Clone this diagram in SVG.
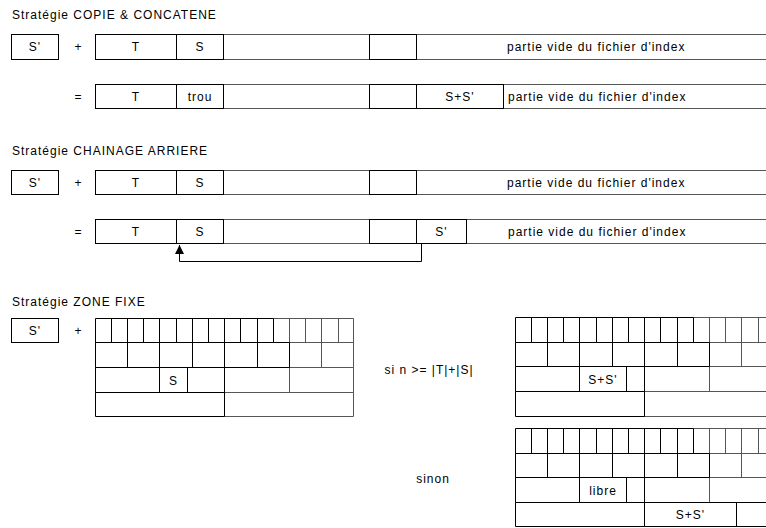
<svg xmlns="http://www.w3.org/2000/svg" width="766" height="528" viewBox="0 0 766 528">
<defs>
<marker id="ah" viewBox="0 0 10 10" refX="10" refY="5" markerWidth="11" markerHeight="9" markerUnits="userSpaceOnUse" orient="auto"><path d="M0,0L10,5L0,10z" fill="#000"/></marker>
</defs>
<style>
text{font-family:"Liberation Sans",Arial,sans-serif;font-size:12px;letter-spacing:1px;fill:#000}
.c{text-anchor:middle}
.b{fill:none;stroke:#000;stroke-width:1}
.f{fill:none;stroke:#555;stroke-width:1}
.ln{fill:none;stroke:#000;stroke-width:1}
</style>
<rect width="766" height="528" fill="#fff"/>

<!-- Section 1 : COPIE & CONCATENE -->
<g id="titre-copie"><text x="12" y="19">Stratégie COPIE &amp; CONCATENE</text></g>
<g id="copie-sprime"><rect class="b" x="11.5" y="34.5" width="47" height="25"/><text class="c" x="35" y="51">S'</text></g>
<g id="copie-plus"><text class="c" x="78.5" y="51">+</text></g>
<g id="copie-index-avant">
<rect class="f" x="223.5" y="34.5" width="146" height="25"/>
<rect class="f" x="416.5" y="34.5" width="360" height="25"/>
<rect class="b" x="95.5" y="34.5" width="81" height="25"/>
<rect class="b" x="176.5" y="34.5" width="47" height="25"/>
<rect class="b" x="369.5" y="34.5" width="47" height="25"/>
<text class="c" x="136" y="51">T</text>
<text class="c" x="200" y="51">S</text>
<text x="507" y="51">partie vide du fichier d'index</text>
</g>
<g id="copie-egal"><text class="c" x="78.5" y="101">=</text></g>
<g id="copie-index-apres">
<rect class="f" x="223.5" y="84.5" width="146" height="24"/>
<rect class="f" x="503.5" y="84.5" width="280" height="24"/>
<rect class="b" x="95.5" y="84.5" width="81" height="24"/>
<rect class="b" x="176.5" y="84.5" width="47" height="24"/>
<rect class="b" x="369.5" y="84.5" width="47" height="24"/>
<rect class="b" x="416.5" y="84.5" width="87" height="24"/>
<text class="c" x="136" y="101">T</text>
<text class="c" x="200" y="101">trou</text>
<text class="c" x="460" y="101">S+S'</text>
<text x="508" y="101">partie vide du fichier d'index</text>
</g>

<!-- Section 2 : CHAINAGE ARRIERE -->
<g id="titre-chainage"><text x="12" y="155">Stratégie CHAINAGE ARRIERE</text></g>
<g id="chainage-sprime"><rect class="b" x="11.5" y="170.5" width="47" height="24"/><text class="c" x="35" y="187">S'</text></g>
<g id="chainage-plus"><text class="c" x="78.5" y="187">+</text></g>
<g id="chainage-index-avant">
<rect class="f" x="223.5" y="170.5" width="146" height="24"/>
<rect class="f" x="416.5" y="170.5" width="360" height="24"/>
<rect class="b" x="95.5" y="170.5" width="81" height="24"/>
<rect class="b" x="176.5" y="170.5" width="47" height="24"/>
<rect class="b" x="369.5" y="170.5" width="47" height="24"/>
<text class="c" x="136" y="187">T</text>
<text class="c" x="200" y="187">S</text>
<text x="507" y="187">partie vide du fichier d'index</text>
</g>
<g id="chainage-egal"><text class="c" x="78.5" y="236">=</text></g>
<g id="chainage-index-apres">
<rect class="f" x="223.5" y="219.5" width="146" height="24"/>
<rect class="f" x="466.5" y="219.5" width="310" height="24"/>
<rect class="b" x="95.5" y="219.5" width="81" height="24"/>
<rect class="b" x="176.5" y="219.5" width="47" height="24"/>
<rect class="b" x="369.5" y="219.5" width="47" height="24"/>
<rect class="b" x="416.5" y="219.5" width="50" height="24"/>
<text class="c" x="136" y="236">T</text>
<text class="c" x="200" y="236">S</text>
<text class="c" x="441.5" y="236">S'</text>
<text x="508" y="236">partie vide du fichier d'index</text>
</g>

<g id="connecteurs">
<path class="ln" d="M421.5,243.5V261.5H179.5V245" marker-end="url(#ah)"/>
</g>

<!-- Section 3 : ZONE FIXE -->
<g id="titre-zone"><text x="12" y="306">Stratégie ZONE FIXE</text></g>
<g id="zone-sprime"><rect class="b" x="11.5" y="318.5" width="47" height="24"/><text class="c" x="35" y="335">S'</text></g>
<g id="zone-plus"><text class="c" x="78.5" y="335">+</text></g>

<g id="grille-avant" transform="translate(95.5,318.5)">
<path class="f" d="M178,0H258V24H178Z M194,0V24 M210,0V24 M226,0V24 M243,0V24 M194,24H258V49H194Z M226,24V49 M129,49H258V74H129Z M194,49V74 M129,74H258V98H129Z"/>
<path class="b" d="M0,0H178V24H0Z M16,0V24 M32,0V24 M48,0V24 M64,0V24 M81,0V24 M97,0V24 M113,0V24 M129,0V24 M145,0V24 M162,0V24 M0,24H194V49H0Z M32,24V49 M64,24V49 M97,24V49 M129,24V49 M162,24V49 M0,49H129V74H0Z M64,49V74 M0,74H129V98H0Z"/>
<rect class="b" x="64" y="49" width="28" height="25"/>
<text class="c" x="78" y="66">S</text>
</g>

<g id="cond-si"><text class="c" x="429" y="374">si n &gt;= |T|+|S|</text></g>

<g id="grille-si" transform="translate(515.5,317.5)">
<path class="f" d="M178,0H258V25H178Z M194,0V25 M210,0V25 M226,0V25 M243,0V25 M194,25H258V49H194Z M226,25V49 M129,49H258V74H129Z M194,49V74 M129,74H258V99H129Z"/>
<path class="b" d="M0,0H178V25H0Z M16,0V25 M32,0V25 M48,0V25 M64,0V25 M81,0V25 M97,0V25 M113,0V25 M129,0V25 M145,0V25 M162,0V25 M0,25H194V49H0Z M32,25V49 M64,25V49 M97,25V49 M129,25V49 M162,25V49 M0,49H129V74H0Z M64,49V74 M0,74H129V99H0Z"/>
<rect class="b" x="64" y="49" width="47" height="25"/>
<text class="c" x="87.5" y="66">S+S'</text>
</g>

<g id="cond-sinon"><text class="c" x="433" y="483">sinon</text></g>

<g id="grille-sinon" transform="translate(515.5,428.5)">
<path class="f" d="M178,0H258V25H178Z M194,0V25 M210,0V25 M226,0V25 M243,0V25 M194,25H258V49H194Z M226,25V49 M129,49H258V74H129Z M194,49V74"/>
<path class="b" d="M0,0H178V25H0Z M16,0V25 M32,0V25 M48,0V25 M64,0V25 M81,0V25 M97,0V25 M113,0V25 M129,0V25 M145,0V25 M162,0V25 M0,25H194V49H0Z M32,25V49 M64,25V49 M97,25V49 M129,25V49 M162,25V49 M0,49H129V74H0Z M64,49V74 M0,74H258V98H0Z M129,74V98 M221,74V98"/>
<rect class="b" x="64" y="49" width="47" height="25"/>
<text class="c" x="87.5" y="66">libre</text>
<text class="c" x="175" y="90">S+S'</text>
</g>
</svg>
